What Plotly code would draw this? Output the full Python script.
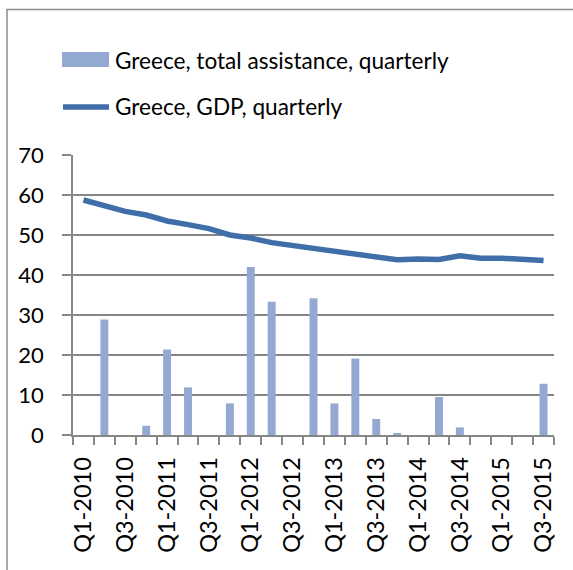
import plotly.graph_objects as go

# Quarterly series, Q1-2010 .. Q3-2015
quarters = [f"Q{q}-{y}" for y in range(2010, 2016) for q in range(1, 5)][:23]
assistance = [0, 28.9, 0, 2.3, 21.4, 11.9, 0, 7.9, 42.0, 33.3, 0, 34.2,
              7.9, 19.1, 4.0, 0.4, 0, 9.5, 1.9, 0, 0, 0, 12.8]
gdp = [58.75, 57.3, 55.9, 55.0, 53.5, 52.6, 51.6, 50.0, 49.25, 48.1, 47.4, 46.8,
       46.0, 45.3, 44.5, 43.8, 44.0, 43.9, 44.8, 44.2, 44.2, 44.0, 43.6]
y_ticks = [0, 10, 20, 30, 40, 50, 60, 70]
series_names = ["Greece, total assistance, quarterly", "Greece, GDP, quarterly"]

W, H = 573, 570
L, R, T, B = 73, 554, 155, 435
FONT = "Lato"
GRID = "#868686"
BAR_COLOR = "#93A9D2"
LINE_COLOR = "#3F6EA9"


def px(x):
    return (x - L) / (R - L)


def py(y):
    return (B - y) / (B - T)


xs = list(range(len(quarters)))

fig = go.Figure()
fig.add_trace(go.Bar(x=xs, y=assistance, name=series_names[0],
                     marker=dict(color=BAR_COLOR, line=dict(width=0)),
                     width=0.38, showlegend=False))
fig.add_trace(go.Scatter(x=xs, y=gdp, name=series_names[1], mode="lines",
                         line=dict(color=LINE_COLOR, width=5.5, shape="linear"),
                         showlegend=False))

shapes = [
    # outer chart frame
    dict(type="rect", xref="paper", yref="paper",
         x0=px(7), x1=px(600), y0=py(9.5), y1=py(600),
         line=dict(color="#8C8C8C", width=1.5), fillcolor="rgba(0,0,0,0)", layer="below"),
    # legend swatches
    dict(type="rect", xref="paper", yref="paper",
         x0=px(62), x1=px(109), y0=py(67), y1=py(52),
         line=dict(width=0), fillcolor=BAR_COLOR),
    dict(type="line", xref="paper", yref="paper",
         x0=px(63), x1=px(109), y0=py(107), y1=py(107),
         line=dict(color=LINE_COLOR, width=5.5)),
]

annotations = [
    dict(xref="paper", yref="paper", x=px(113), y=py(60), text=series_names[0],
         showarrow=False, xanchor="left", yanchor="middle",
         font=dict(family=FONT, size=22.6, color="#000000")),
    dict(xref="paper", yref="paper", x=px(113), y=py(107), text=series_names[1],
         showarrow=False, xanchor="left", yanchor="middle",
         font=dict(family=FONT, size=22.6, color="#000000")),
]

fig.update_layout(
    width=W, height=H,
    margin=dict(l=L, r=W - R, t=T, b=H - B),
    paper_bgcolor="white", plot_bgcolor="white",
    shapes=shapes, annotations=annotations,
    bargap=0.6,
    font=dict(family=FONT, size=22, color="#000000"),
)

fig.update_xaxes(
    range=[-0.5, len(quarters) - 0.5],
    tickmode="array", tickvals=xs[::2], ticktext=quarters[::2],
    tickangle=-90, ticks="", showgrid=False,
    showline=True, linecolor=GRID, linewidth=1.5,
    ticklabelstandoff=11,
    tickfont=dict(family=FONT, size=23.5, color="#000000"),
    minor=dict(tickmode="array", tickvals=[i - 0.5 for i in range(len(quarters) + 1)],
               ticks="outside", ticklen=8, tickwidth=1.5, tickcolor=GRID, showgrid=False),
    zeroline=False, fixedrange=True,
)

fig.update_yaxes(
    range=[0, 70], tickmode="array", tickvals=y_ticks,
    ticks="outside", ticklen=9, tickwidth=1.5, tickcolor=GRID,
    showgrid=True, gridcolor=GRID, gridwidth=1.5,
    showline=True, linecolor=GRID, linewidth=1.5,
    ticklabelstandoff=14,
    tickfont=dict(family=FONT, size=22, color="#000000"),
    zeroline=False, fixedrange=True,
)

fig.write_html("out.html")
